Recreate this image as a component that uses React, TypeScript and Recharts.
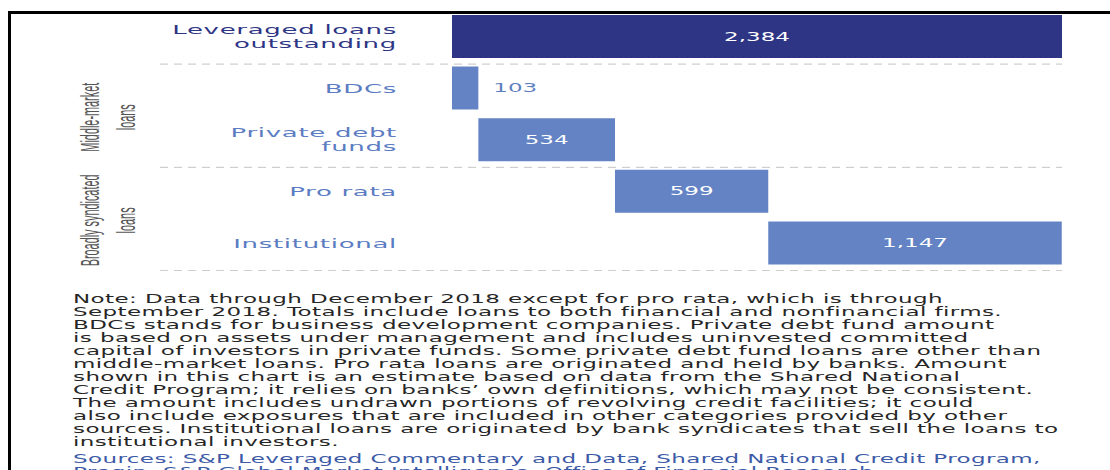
import { BarChart, Bar, XAxis, YAxis, Cell, LabelList } from 'recharts'

// rows, top to bottom ($ billions)
const categories = [
  'Leveraged loans\noutstanding',
  'BDCs',
  'Private debt\nfunds',
  'Pro rata',
  'Institutional',
]
const amounts = [2384, 103, 534, 599, 1147]

// group brackets on the left: label lines and the rows they cover
const groups = [
  { lines: ['Middle-market', 'loans'], from: 1, to: 2 },
  { lines: ['Broadly syndicated', 'loans'], from: 3, to: 4 },
]
// dashed separators drawn below these rows
const separatorsAfter = [0, 2, 4]

const noteLines = [
  'Note: Data through December 2018 except for pro rata, which is through',
  'September 2018. Totals include loans to both financial and nonfinancial firms.',
  'BDCs stands for business development companies. Private debt fund amount',
  'is based on assets under management and includes uninvested committed',
  'capital of investors in private funds. Some private debt fund loans are other than',
  'middle-market loans. Pro rata loans are originated and held by banks. Amount',
  'shown in this chart is an estimate based on data from the Shared National',
  'Credit Program; it relies on banks\u2019 own definitions, which may not be consistent.',
  'The amount includes undrawn portions of revolving credit facilities; it could',
  'also include exposures that are included in other categories provided by other',
  'sources. Institutional loans are originated by bank syndicates that sell the loans to',
  'institutional investors.',
]
const sourceLines = [
  'Sources: S&P Leveraged Commentary and Data, Shared National Credit Program,',
  'Preqin, S&P Global Market Intelligence, Office of Financial Research',
]

// waterfall: the total starts at 0, the parts stack after each other
const bases = amounts.map((_, i) =>
  i === 0 ? 0 : amounts.slice(1, i).reduce((s, v) => s + v, 0)
)
const data = categories.map((name, i) => ({
  name,
  base: bases[i],
  value: amounts[i],
}))

const NAVY = '#2d3584'
const LIGHT = '#6383c4'
const FONT = '"DejaVu Sans", Verdana, sans-serif'

// whole picture is drawn at half width and stretched 2x horizontally
const W = 555
const H = 280
const margin = { top: 11, right: 24, bottom: 11, left: 0 }
const axisW = 226
const band = (H - margin.top - margin.bottom) / categories.length
const dashStart = 80
const dashEnd = W - margin.right

const CategoryTick = (props: any) => {
  const { x, y, payload } = props
  const i = categories.indexOf(payload.value)
  const lines = String(payload.value).split('\n')
  const color = i === 0 ? NAVY : '#5b7cc2'
  const lh = 14
  const group = groups.find((g) => g.from === i)
  return (
    <g>
      {lines.map((l, k) => (
        <text
          key={k}
          x={x}
          y={y + (k - (lines.length - 1) / 2) * lh}
          textAnchor="end"
          dominantBaseline="central"
          fontFamily={FONT}
          fontSize={13}
          letterSpacing={0.35}
          fill={color}
        >
          {l}
        </text>
      ))}
      {separatorsAfter.includes(i) && (
        <line
          x1={dashStart}
          x2={dashEnd}
          y1={y + band / 2 + 1.5}
          y2={y + band / 2 + 1.5}
          stroke="#cfcfcf"
          strokeWidth={1.2}
          strokeDasharray="4 3"
        />
      )}
      {group &&
        group.lines.map((l, k) => {
          const cy = y + ((group.to - group.from) * band) / 2 + 3
          const cx = 45.5 + k * 18
          return (
            <text
              key={'g' + k}
              x={0}
              y={0}
              transform={`translate(${cx}, ${cy}) rotate(-90) scale(0.87, 1)`}
              textAnchor="middle"
              dominantBaseline="central"
              fontFamily='"Liberation Sans Narrow", "Liberation Sans", Arial, sans-serif'
              fontSize={12.5}
              fill="#555"
            >
              {l}
            </text>
          )
        })}
    </g>
  )
}

const ValueLabel = (props: any) => {
  const { x, y, width, height, value } = props
  const outside = width < 30
  return (
    <text
      x={outside ? x + width + 7.5 : x + width / 2}
      y={y + height / 2}
      textAnchor={outside ? 'start' : 'middle'}
      dominantBaseline="central"
      fontFamily={FONT}
      fontSize={11.5}
      fill={outside ? '#5f7fbf' : '#fff'}
    >
      {Number(value).toLocaleString('en-US')}
    </text>
  )
}

export default function App() {
  return (
    <div
      style={{
        position: 'absolute',
        left: 0,
        top: 0,
        width: 1110,
        height: 470,
        overflow: 'hidden',
        background: '#fff',
      }}
    >
      <div style={{ position: 'absolute', left: 8, top: 11, width: 3, height: 459, background: '#000' }} />
      <div style={{ position: 'absolute', left: 8, top: 11, width: 1102, height: 3, background: '#000' }} />
      <div
        style={{
          position: 'absolute',
          left: 0,
          top: 0,
          width: W,
          height: 470,
          transform: 'scaleX(2)',
          transformOrigin: '0 0',
        }}
      >
        <BarChart width={W} height={H} data={data} layout="vertical" margin={margin} barSize={43}>
          <XAxis type="number" hide domain={[0, amounts[0]]} />
          <YAxis
            type="category"
            dataKey="name"
            width={axisW}
            axisLine={false}
            tickLine={false}
            tickSize={0}
            tickMargin={27.5}
            interval={0}
            tick={<CategoryTick />}
          />
          <Bar dataKey="base" stackId="a" fill="transparent" isAnimationActive={false} />
          <Bar dataKey="value" stackId="a" isAnimationActive={false}>
            {data.map((_, i) => (
              <Cell key={i} fill={i === 0 ? NAVY : LIGHT} />
            ))}
            <LabelList dataKey="value" content={<ValueLabel />} />
          </Bar>
        </BarChart>
        <div
          style={{
            position: 'absolute',
            left: 36.5,
            top: 293,
            fontFamily: FONT,
            fontSize: 11.5,
            letterSpacing: 0.2,
            lineHeight: '13px',
            whiteSpace: 'nowrap',
          }}
        >
          {noteLines.map((l, i) => (
            <div key={i} style={{ color: '#262626' }}>{l}</div>
          ))}
          <div style={{ height: 4 }} />
          {sourceLines.map((l, i) => (
            <div key={'s' + i} style={{ color: '#3c5aa6' }}>{l}</div>
          ))}
        </div>
      </div>
    </div>
  )
}
